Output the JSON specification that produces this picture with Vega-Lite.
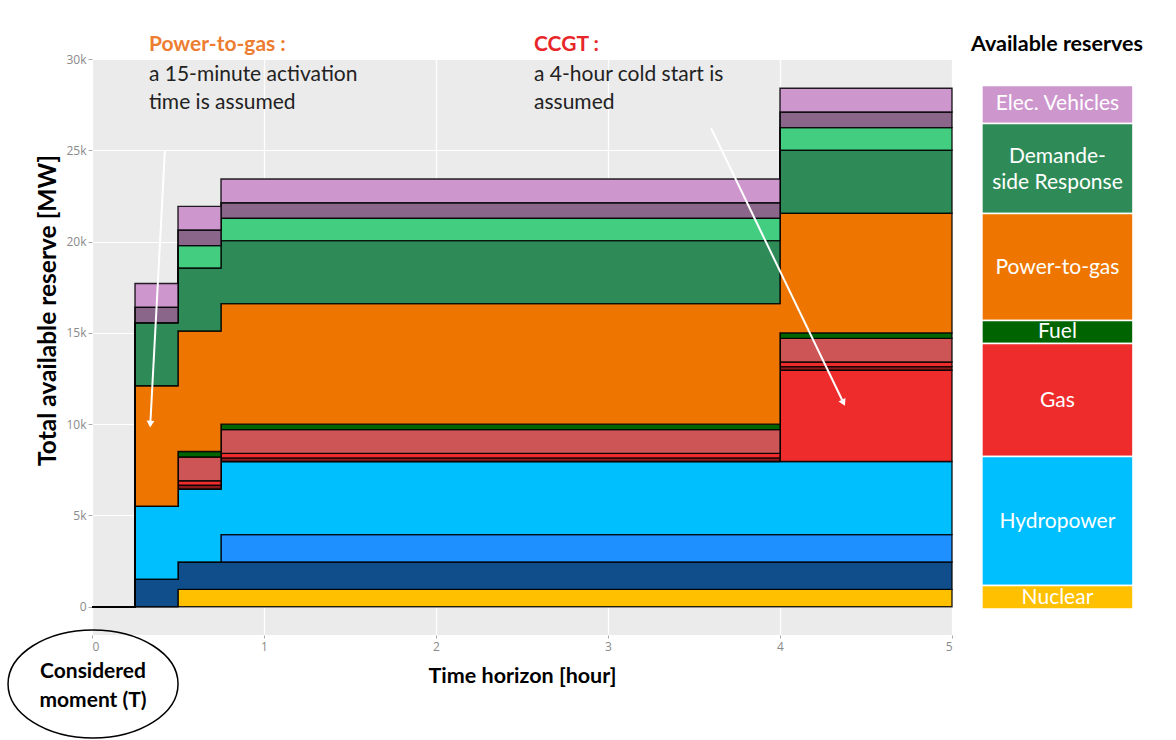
{
  "$schema": "https://vega.github.io/schema/vega-lite/v6.json",
  "width": 860,
  "height": 576,
  "autosize": {"type": "none"},
  "padding": {"left": 92, "top": 59, "right": 224, "bottom": 105},
  "background": "white",
  "config": {"view": {"fill": "#EBEBEB", "stroke": null}, "font": "Lato"},
  "datasets": {
    "reserves": [
      {"s": "Nuclear", "k": 1, "t": 0, "v": 0}, {"s": "Nuclear", "k": 1, "t": 0.25, "v": 0}, {"s": "Nuclear", "k": 1, "t": 0.5, "v": 950}, {"s": "Nuclear", "k": 1, "t": 0.75, "v": 950}, {"s": "Nuclear", "k": 1, "t": 4, "v": 950}, {"s": "Nuclear", "k": 1, "t": 5, "v": 950},
      {"s": "Hydro A", "k": 2, "t": 0, "v": 0}, {"s": "Hydro A", "k": 2, "t": 0.25, "v": 1500}, {"s": "Hydro A", "k": 2, "t": 0.5, "v": 1500}, {"s": "Hydro A", "k": 2, "t": 0.75, "v": 1500}, {"s": "Hydro A", "k": 2, "t": 4, "v": 1500}, {"s": "Hydro A", "k": 2, "t": 5, "v": 1500},
      {"s": "Hydro B", "k": 3, "t": 0, "v": 0}, {"s": "Hydro B", "k": 3, "t": 0.25, "v": 0}, {"s": "Hydro B", "k": 3, "t": 0.5, "v": 0}, {"s": "Hydro B", "k": 3, "t": 0.75, "v": 1500}, {"s": "Hydro B", "k": 3, "t": 4, "v": 1500}, {"s": "Hydro B", "k": 3, "t": 5, "v": 1500},
      {"s": "Hydropower", "k": 4, "t": 0, "v": 0}, {"s": "Hydropower", "k": 4, "t": 0.25, "v": 4000}, {"s": "Hydropower", "k": 4, "t": 0.5, "v": 4000}, {"s": "Hydropower", "k": 4, "t": 0.75, "v": 4000}, {"s": "Hydropower", "k": 4, "t": 4, "v": 4000}, {"s": "Hydropower", "k": 4, "t": 5, "v": 4000},
      {"s": "Gas", "k": 5, "t": 0, "v": 0}, {"s": "Gas", "k": 5, "t": 0.25, "v": 0}, {"s": "Gas", "k": 5, "t": 0.5, "v": 0}, {"s": "Gas", "k": 5, "t": 0.75, "v": 0}, {"s": "Gas", "k": 5, "t": 4, "v": 5000}, {"s": "Gas", "k": 5, "t": 5, "v": 5000},
      {"s": "Gas B", "k": 6, "t": 0, "v": 0}, {"s": "Gas B", "k": 6, "t": 0.25, "v": 0}, {"s": "Gas B", "k": 6, "t": 0.5, "v": 200}, {"s": "Gas B", "k": 6, "t": 0.75, "v": 200}, {"s": "Gas B", "k": 6, "t": 4, "v": 200}, {"s": "Gas B", "k": 6, "t": 5, "v": 200},
      {"s": "Gas C", "k": 7, "t": 0, "v": 0}, {"s": "Gas C", "k": 7, "t": 0.25, "v": 0}, {"s": "Gas C", "k": 7, "t": 0.5, "v": 250}, {"s": "Gas C", "k": 7, "t": 0.75, "v": 250}, {"s": "Gas C", "k": 7, "t": 4, "v": 250}, {"s": "Gas C", "k": 7, "t": 5, "v": 250},
      {"s": "Gas D", "k": 8, "t": 0, "v": 0}, {"s": "Gas D", "k": 8, "t": 0.25, "v": 0}, {"s": "Gas D", "k": 8, "t": 0.5, "v": 1300}, {"s": "Gas D", "k": 8, "t": 0.75, "v": 1300}, {"s": "Gas D", "k": 8, "t": 4, "v": 1300}, {"s": "Gas D", "k": 8, "t": 5, "v": 1300},
      {"s": "Fuel", "k": 9, "t": 0, "v": 0}, {"s": "Fuel", "k": 9, "t": 0.25, "v": 0}, {"s": "Fuel", "k": 9, "t": 0.5, "v": 300}, {"s": "Fuel", "k": 9, "t": 0.75, "v": 300}, {"s": "Fuel", "k": 9, "t": 4, "v": 300}, {"s": "Fuel", "k": 9, "t": 5, "v": 300},
      {"s": "Power-to-gas", "k": 10, "t": 0, "v": 0}, {"s": "Power-to-gas", "k": 10, "t": 0.25, "v": 6600}, {"s": "Power-to-gas", "k": 10, "t": 0.5, "v": 6600}, {"s": "Power-to-gas", "k": 10, "t": 0.75, "v": 6600}, {"s": "Power-to-gas", "k": 10, "t": 4, "v": 6550}, {"s": "Power-to-gas", "k": 10, "t": 5, "v": 6550},
      {"s": "Demande-side Response", "k": 11, "t": 0, "v": 0}, {"s": "Demande-side Response", "k": 11, "t": 0.25, "v": 3450}, {"s": "Demande-side Response", "k": 11, "t": 0.5, "v": 3450}, {"s": "Demande-side Response", "k": 11, "t": 0.75, "v": 3450}, {"s": "Demande-side Response", "k": 11, "t": 4, "v": 3450}, {"s": "Demande-side Response", "k": 11, "t": 5, "v": 3450},
      {"s": "DSR B", "k": 12, "t": 0, "v": 0}, {"s": "DSR B", "k": 12, "t": 0.25, "v": 0}, {"s": "DSR B", "k": 12, "t": 0.5, "v": 1230}, {"s": "DSR B", "k": 12, "t": 0.75, "v": 1230}, {"s": "DSR B", "k": 12, "t": 4, "v": 1240}, {"s": "DSR B", "k": 12, "t": 5, "v": 1240},
      {"s": "EV B", "k": 13, "t": 0, "v": 0}, {"s": "EV B", "k": 13, "t": 0.25, "v": 850}, {"s": "EV B", "k": 13, "t": 0.5, "v": 850}, {"s": "EV B", "k": 13, "t": 0.75, "v": 850}, {"s": "EV B", "k": 13, "t": 4, "v": 860}, {"s": "EV B", "k": 13, "t": 5, "v": 860},
      {"s": "Elec. Vehicles", "k": 14, "t": 0, "v": 0}, {"s": "Elec. Vehicles", "k": 14, "t": 0.25, "v": 1300}, {"s": "Elec. Vehicles", "k": 14, "t": 0.5, "v": 1300}, {"s": "Elec. Vehicles", "k": 14, "t": 0.75, "v": 1300}, {"s": "Elec. Vehicles", "k": 14, "t": 4, "v": 1300}, {"s": "Elec. Vehicles", "k": 14, "t": 5, "v": 1300}
    ],
    "blocks": [
      {"s": "Elec. Vehicles", "t": 5.174, "t2": 6.052, "v": 26470, "v2": 28550},
      {"s": "Demande-side Response", "t": 5.174, "t2": 6.052, "v": 21540, "v2": 26470},
      {"s": "Power-to-gas", "t": 5.174, "t2": 6.052, "v": 15680, "v2": 21540},
      {"s": "Fuel", "t": 5.174, "t2": 6.052, "v": 14420, "v2": 15680},
      {"s": "Gas", "t": 5.174, "t2": 6.052, "v": 8230, "v2": 14420},
      {"s": "Hydropower", "t": 5.174, "t2": 6.052, "v": 1160, "v2": 8230},
      {"s": "Nuclear", "t": 5.174, "t2": 6.052, "v": -130, "v2": 1160}
    ]
  },
  "layer": [
    {
      "data": {"name": "reserves"},
      "mark": {"type": "area", "interpolate": "step-after", "stroke": "black", "strokeWidth": 1.4, "strokeOpacity": 0.85},
      "encoding": {
        "x": {
          "field": "t", "type": "quantitative",
          "scale": {"domain": [0, 5], "nice": false, "zero": false},
          "axis": {"values": [0, 1, 2, 3, 4, 5], "format": "d", "title": "Time horizon [hour]", "titleFont": "Lato", "titleFontWeight": "bold", "titleFontSize": 21.5, "titleColor": "black", "titleY": 41, "titleBaseline": "middle", "labelFont": "Open Sans", "labelFontSize": 12, "labelColor": "#8a8a8a", "labelPadding": 3, "domain": false, "tickColor": "#aaaaaa", "tickSize": 3, "gridColor": "white", "gridWidth": 1.2}
        },
        "y": {
          "field": "v", "type": "quantitative", "stack": "zero",
          "scale": {"domain": [-1550, 30000], "nice": false, "zero": false},
          "axis": {"values": [0, 5000, 10000, 15000, 20000, 25000, 30000], "labelExpr": "datum.value == 0 ? '0' : format(datum.value / 1000, 'd') + 'k'", "title": "Total available reserve [MW]", "titleFont": "Lato", "titleFontWeight": "bold", "titleFontSize": 24.5, "titleColor": "black", "titleX": -44, "titleY": 251, "titleAngle": -90, "titleAlign": "center", "titleBaseline": "middle", "labelFont": "Open Sans", "labelFontSize": 12, "labelColor": "#8a8a8a", "labelPadding": 2, "domain": false, "tickColor": "#aaaaaa", "tickSize": 4, "gridColor": "white", "gridWidth": 1.2}
        },
        "color": {
          "field": "s", "type": "nominal", "legend": null,
          "scale": {
            "domain": ["Nuclear", "Hydro A", "Hydro B", "Hydropower", "Gas", "Gas B", "Gas C", "Gas D", "Fuel", "Power-to-gas", "Demande-side Response", "DSR B", "EV B", "Elec. Vehicles"],
            "range": ["#FFC000", "#104E8B", "#1E90FF", "#00BFFF", "#EE2C2C", "#8B1A1A", "#EE2C2C", "#CD5555", "#006400", "#EE7600", "#2E8B57", "#43CD80", "#8B668B", "#CD96CD"]
          }
        },
        "order": {"field": "k", "type": "quantitative"}
      }
    },
    {
      "data": {"name": "blocks"},
      "mark": {"type": "rect", "stroke": "white", "strokeWidth": 1.5},
      "encoding": {
        "x": {"field": "t", "type": "quantitative"},
        "x2": {"field": "t2"},
        "y": {"field": "v", "type": "quantitative"},
        "y2": {"field": "v2"},
        "color": {"field": "s", "type": "nominal", "legend": null}
      }
    },
    {
      "data": {"values": [
        {"txt": "Elec. Vehicles", "t": 5.613, "v": 27510},
        {"txt": "Demande-", "t": 5.613, "v": 24630},
        {"txt": "side Response", "t": 5.613, "v": 23210},
        {"txt": "Power-to-gas", "t": 5.613, "v": 18550},
        {"txt": "Fuel", "t": 5.613, "v": 15050},
        {"txt": "Gas", "t": 5.613, "v": 11260},
        {"txt": "Hydropower", "t": 5.613, "v": 4640},
        {"txt": "Nuclear", "t": 5.613, "v": 480}
      ]},
      "mark": {"type": "text", "color": "white", "fontSize": 21, "font": "Lato", "align": "center", "baseline": "middle"},
      "encoding": {
        "x": {"field": "t", "type": "quantitative"},
        "y": {"field": "v", "type": "quantitative"},
        "text": {"field": "txt"}
      }
    },
    {
      "data": {"values": [{"txt": "Available reserves", "t": 5.61, "v": 30770}]},
      "mark": {"type": "text", "color": "black", "fontSize": 21.5, "fontWeight": "bold", "font": "Lato", "align": "center", "baseline": "middle"},
      "encoding": {
        "x": {"field": "t", "type": "quantitative"},
        "y": {"field": "v", "type": "quantitative"},
        "text": {"field": "txt"}
      }
    },
    {
      "data": {"values": [{"txt": "Power-to-gas :", "t": 0.331, "v": 30770}]},
      "mark": {"type": "text", "color": "#ED7D31", "fontSize": 21, "fontWeight": "bold", "font": "Lato", "align": "left", "baseline": "middle"},
      "encoding": {
        "x": {"field": "t", "type": "quantitative"},
        "y": {"field": "v", "type": "quantitative"},
        "text": {"field": "txt"}
      }
    },
    {
      "data": {"values": [{"txt": "CCGT :", "t": 2.57, "v": 30770}]},
      "mark": {"type": "text", "color": "#E8262A", "fontSize": 21, "fontWeight": "bold", "font": "Lato", "align": "left", "baseline": "middle"},
      "encoding": {
        "x": {"field": "t", "type": "quantitative"},
        "y": {"field": "v", "type": "quantitative"},
        "text": {"field": "txt"}
      }
    },
    {
      "data": {"values": [
        {"txt": "a 15-minute activation", "t": 0.331, "v": 29120},
        {"txt": "time is assumed", "t": 0.331, "v": 27580},
        {"txt": "a 4-hour cold start is", "t": 2.57, "v": 29120},
        {"txt": "assumed", "t": 2.57, "v": 27580}
      ]},
      "mark": {"type": "text", "color": "#222222", "fontSize": 21, "font": "Lato", "align": "left", "baseline": "middle"},
      "encoding": {
        "x": {"field": "t", "type": "quantitative"},
        "y": {"field": "v", "type": "quantitative"},
        "text": {"field": "txt"}
      }
    },
    {
      "data": {"values": [
        {"t": 0.424, "v": 25000, "t2": 0.339, "v2": 10000},
        {"t": 3.599, "v": 26220, "t2": 4.369, "v2": 11170}
      ]},
      "mark": {"type": "rule", "color": "white", "strokeWidth": 2},
      "encoding": {
        "x": {"field": "t", "type": "quantitative"},
        "y": {"field": "v", "type": "quantitative"},
        "x2": {"field": "t2"},
        "y2": {"field": "v2"}
      }
    },
    {
      "data": {"values": [{"t": 0.339, "v": 10000}]},
      "mark": {"type": "point", "shape": "triangle-down", "filled": true, "color": "white", "opacity": 1, "size": 60, "angle": 3},
      "encoding": {
        "x": {"field": "t", "type": "quantitative"},
        "y": {"field": "v", "type": "quantitative"}
      }
    },
    {
      "data": {"values": [{"t": 4.369, "v": 11170}]},
      "mark": {"type": "point", "shape": "triangle-down", "filled": true, "color": "white", "opacity": 1, "size": 60, "angle": -26},
      "encoding": {
        "x": {"field": "t", "type": "quantitative"},
        "y": {"field": "v", "type": "quantitative"}
      }
    },
    {
      "data": {"values": [{"t": 0.006, "v": -4230}]},
      "mark": {"type": "point", "shape": "M -1 0 C -1 -0.351 -0.552 -0.635 0 -0.635 C 0.552 -0.635 1 -0.351 1 0 C 1 0.351 0.552 0.635 0 0.635 C -0.552 0.635 -1 0.351 -1 0 Z", "filled": false, "stroke": "black", "strokeWidth": 1.5, "opacity": 1, "size": 28900},
      "encoding": {
        "x": {"field": "t", "type": "quantitative"},
        "y": {"field": "v", "type": "quantitative"}
      }
    },
    {
      "data": {"values": [
        {"txt": "Considered", "t": 0.006, "v": -3600},
        {"txt": "moment (T)", "t": 0.006, "v": -5190}
      ]},
      "mark": {"type": "text", "color": "black", "fontSize": 21, "fontWeight": "bold", "font": "Lato", "align": "center", "baseline": "middle"},
      "encoding": {
        "x": {"field": "t", "type": "quantitative"},
        "y": {"field": "v", "type": "quantitative"},
        "text": {"field": "txt"}
      }
    }
  ]
}
